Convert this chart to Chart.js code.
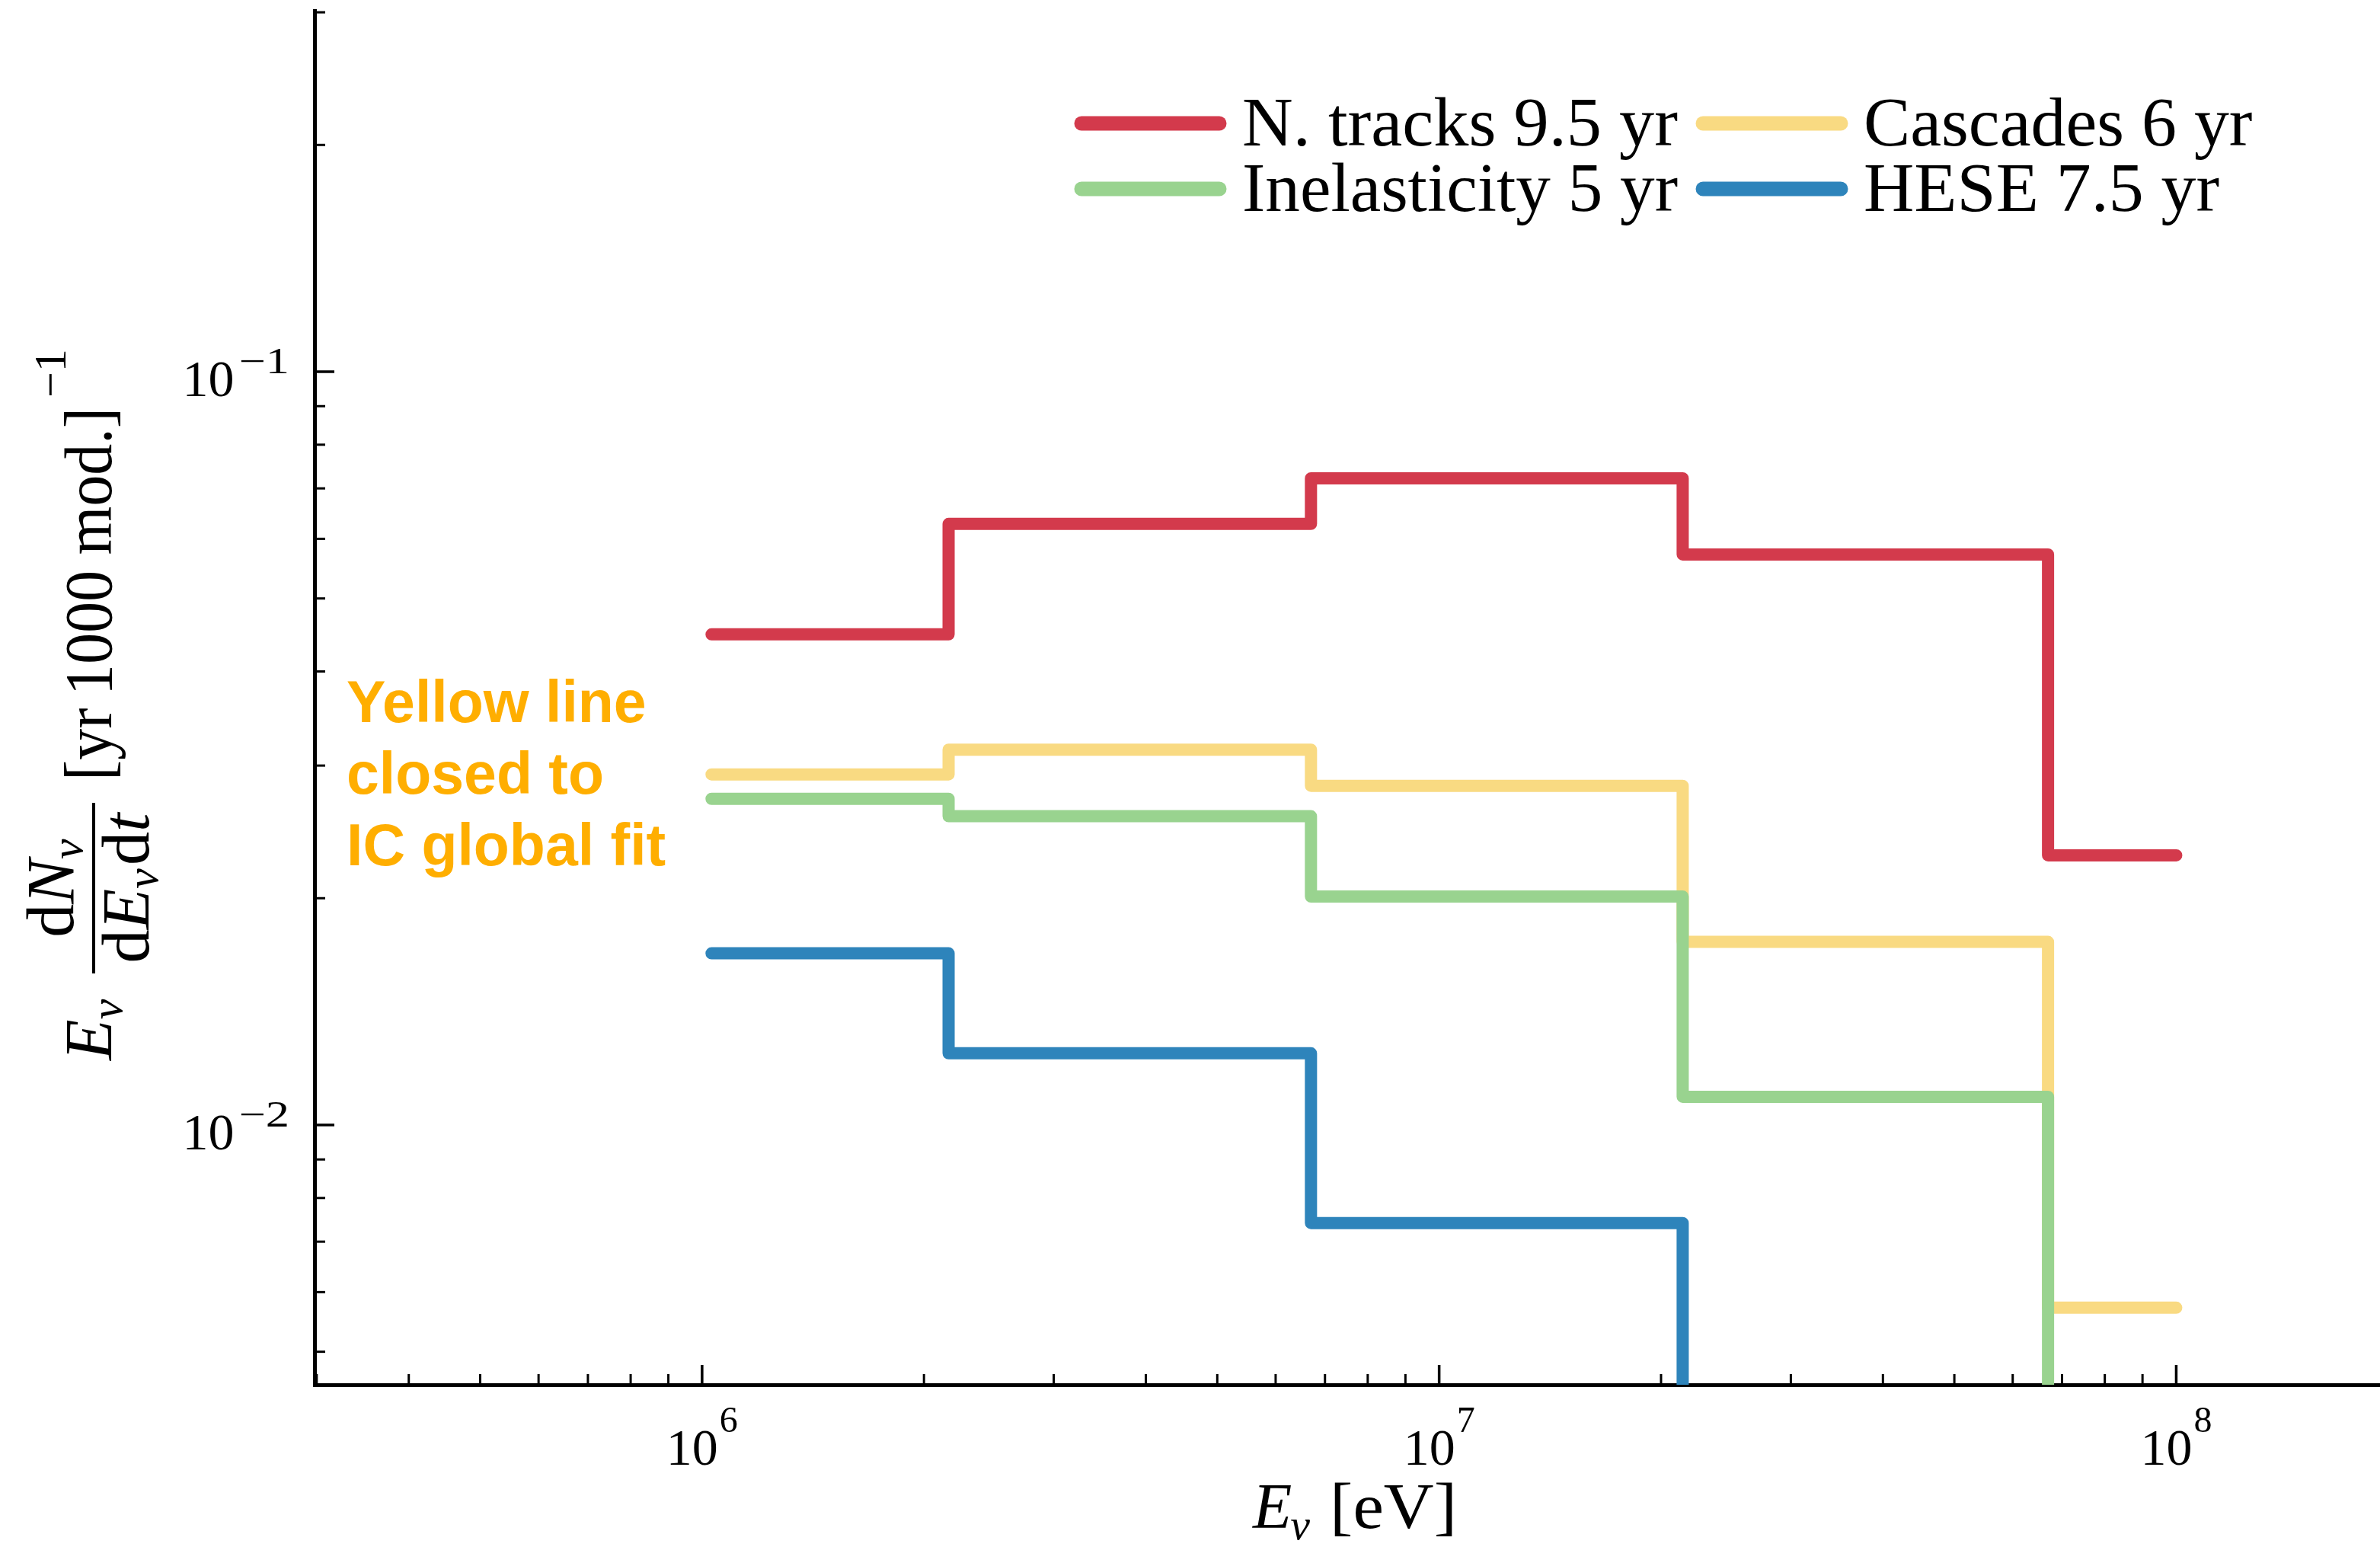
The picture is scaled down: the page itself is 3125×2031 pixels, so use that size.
<!DOCTYPE html>
<html>
<head>
<meta charset="utf-8">
<script src="https://cdn.jsdelivr.net/npm/chart.js@4.4.1/dist/chart.umd.min.js"></script>
<style>
  html, body { margin: 0; padding: 0; background: #ffffff; }
  #wrap { width: 3125px; height: 2031px; position: relative; }
  canvas { display: block; }
</style>
</head>
<body>
<div id="wrap"><canvas id="c" width="3125" height="2031"></canvas></div>
<script>
// ---------------- data ----------------
const binEdges = [1.03e6, 2.16e6, 6.7e6, 2.14e7, 6.7e7, 1.0e8];   // E_nu [eV]
const seriesLabels = ['N. tracks 9.5 yr', 'Inelasticity 5 yr', 'Cascades 6 yr', 'HESE 7.5 yr'];
const tracksValues       = [0.0448, 0.0628, 0.0722, 0.0572, 0.0228];
const inelasticityValues = [0.0271, 0.0257, 0.0201, 0.0109, 0.001];   // last bin below the axis
const cascadesValues     = [0.0292, 0.0315, 0.0282, 0.0175, 0.00572];
const heseValues         = [0.0169, 0.01245, 0.00741, 0.001, 0.001];  // last two bins below the axis
const seriesColors = ['#d33a4c', '#99d38f', '#f9da82', '#2e84bb'];

const xMajorTicks = [1e6, 1e7, 1e8];
const xMinorTicks = [3e5, 4e5, 5e5, 6e5, 7e5, 8e5, 9e5,
                     2e6, 3e6, 4e6, 5e6, 6e6, 7e6, 8e6, 9e6,
                     2e7, 3e7, 4e7, 5e7, 6e7, 7e7, 8e7, 9e7];
const xTickBases = ['10', '10', '10'];
const xTickExponents = ['6', '7', '8'];

const yMajorTicks = [1e-1, 1e-2];
const yMinorTicks = [3e-1, 2e-1, 9e-2, 8e-2, 7e-2, 6e-2, 5e-2, 4e-2, 3e-2, 2e-2,
                     9e-3, 8e-3, 7e-3, 6e-3, 5e-3];
const yTickBases = ['10', '10'];
const yTickExponents = ['\u22121', '\u22122'];

const annotationLines = ['Yellow line', 'closed to', 'IC global fit'];

// ---------------- helpers ----------------
function stepPoints(edges, vals) {
  const pts = [];
  vals.forEach((v, i) => {
    pts.push({ x: edges[i], y: v });
    pts.push({ x: edges[i + 1], y: v });
  });
  return pts;
}

const seriesValues = [tracksValues, inelasticityValues, cascadesValues, heseValues];

const SERIF = '"Liberation Serif", "DejaVu Serif", serif';
const SANS = '"Liberation Sans", Arial, sans-serif';

function buildTickObjs(minor, major) {
  return minor.concat(major).sort((a, b) => a - b).map(v => ({ value: v, major: major.includes(v) }));
}

// ---------------- custom drawing plugin ----------------
const decorPlugin = {
  id: 'decor',
  afterDraw(chart) {
    const ctx = chart.ctx;
    const xs = chart.scales.x, ys = chart.scales.y;
    const area = chart.chartArea;
    ctx.save();
    ctx.strokeStyle = '#000';
    ctx.fillStyle = '#000';
    ctx.lineCap = 'butt';

    // inward ticks on x axis
    xs.ticks.forEach(t => {
      const px = xs.getPixelForValue(t.value);
      if (px < area.left - 1 || px > area.right + 1) return;
      const len = t.major ? 26 : 14;
      ctx.lineWidth = t.major ? 3.5 : 3;
      ctx.beginPath();
      ctx.moveTo(px, area.bottom);
      ctx.lineTo(px, area.bottom - len);
      ctx.stroke();
    });
    // inward ticks on y axis
    ys.ticks.forEach(t => {
      const py = ys.getPixelForValue(t.value);
      if (py < area.top - 3 || py > area.bottom + 1) return;
      const len = t.major ? 26 : 14;
      ctx.lineWidth = t.major ? 3.5 : 3;
      ctx.beginPath();
      ctx.moveTo(area.left, py);
      ctx.lineTo(area.left + len, py);
      ctx.stroke();
    });

    // tick labels (10^n)
    const baseSize = 68, expSize = 48;
    ctx.textBaseline = 'alphabetic';
    ctx.textAlign = 'left';
    xMajorTicks.forEach((v, i) => {
      const px = xs.getPixelForValue(v);
      ctx.font = `${baseSize}px ${SERIF}`;
      const wb = ctx.measureText(xTickBases[i]).width;
      ctx.font = `${expSize}px ${SERIF}`;
      const we = ctx.measureText(xTickExponents[i]).width;
      const x0 = px - (wb + 2 + we) / 2;
      ctx.font = `${baseSize}px ${SERIF}`;
      ctx.fillText(xTickBases[i], x0, area.bottom + 105);
      ctx.font = `${expSize}px ${SERIF}`;
      ctx.fillText(xTickExponents[i], x0 + wb + 2, area.bottom + 62);
    });
    yMajorTicks.forEach((v, i) => {
      const py = ys.getPixelForValue(v);
      ctx.font = `${baseSize}px ${SERIF}`;
      const wb = ctx.measureText(yTickBases[i]).width;
      ctx.font = `${expSize}px ${SERIF}`;
      const we = ctx.measureText(yTickExponents[i]).width;
      const right = area.left - 33;
      const gap = 6;
      const stretch = 1.3;
      const x0 = right - (wb + gap + we * stretch);
      ctx.font = `${baseSize}px ${SERIF}`;
      ctx.fillText(yTickBases[i], x0, py + 32);
      ctx.font = `${expSize}px ${SERIF}`;
      ctx.save();
      ctx.translate(x0 + wb + gap, py + 2);
      ctx.scale(stretch, 1);
      ctx.fillText(yTickExponents[i], 0, 0);
      ctx.restore();
    });

    // x axis title: E_nu [eV]
    {
      let x = 1645;
      const by = 2006;
      ctx.font = `italic 84px ${SERIF}`;
      ctx.fillText('E', x, by);
      x += ctx.measureText('E').width - 2;
      ctx.font = `italic 58px ${SERIF}`;
      ctx.fillText('\u03bd', x, by + 15);
      x += ctx.measureText('\u03bd').width + 26;
      ctx.font = `84px ${SERIF}`;
      const w = ctx.measureText('[eV]').width;
      ctx.save();
      ctx.translate(x, by);
      ctx.scale((1913 - x) / w, 1);
      ctx.fillText('[eV]', 0, 0);
      ctx.restore();
    }

    // y axis title (rotated)
    {
      ctx.save();
      ctx.rotate(-Math.PI / 2);
      // frame coordinates: u = -screenY, v = screenX
      const base = 146;
      let u = -1392;
      ctx.font = `italic 88px ${SERIF}`;
      ctx.fillText('E', u, base);
      u += ctx.measureText('E').width;
      ctx.font = `italic 60px ${SERIF}`;
      ctx.fillText('\u03bd', u, base + 14);

      // fraction
      const barStart = -1278, barEnd = -1054, barV = 123;
      ctx.lineWidth = 4;
      ctx.beginPath();
      ctx.moveTo(barStart, barV);
      ctx.lineTo(barEnd, barV);
      ctx.stroke();
      const center = (barStart + barEnd) / 2;
      function measureParts(parts) {
        let w = 0;
        parts.forEach(p => { ctx.font = p.f; w += ctx.measureText(p.t).width + (p.gap || 0); });
        return w;
      }
      function drawParts(parts, start, v) {
        let uu = start;
        parts.forEach(p => {
          ctx.font = p.f;
          ctx.fillText(p.t, uu, v + (p.dy || 0));
          uu += ctx.measureText(p.t).width + (p.gap || 0);
        });
      }
      const num = [
        { t: 'd', f: `88px ${SERIF}` },
        { t: 'N', f: `italic 88px ${SERIF}` },
        { t: '\u03bd', f: `italic 60px ${SERIF}`, dy: 12 }
      ];
      const den = [
        { t: 'd', f: `88px ${SERIF}` },
        { t: 'E', f: `italic 88px ${SERIF}` },
        { t: '\u03bd', f: `italic 60px ${SERIF}`, dy: 12, gap: 4 },
        { t: 'd', f: `88px ${SERIF}` },
        { t: 't', f: `italic 88px ${SERIF}` }
      ];
      drawParts(num, center - measureParts(num) / 2, 96);
      drawParts(den, center - measureParts(den) / 2, 195);

      // bracket unit
      ctx.font = `88px ${SERIF}`;
      const unit = '[yr\u20091000 mod.]';
      const wu = ctx.measureText(unit).width;
      const targetStart = -1025, targetEnd = -535;
      ctx.save();
      ctx.translate(targetStart, base);
      ctx.scale((targetEnd - targetStart) / wu, 1);
      ctx.fillText(unit, 0, 0);
      ctx.restore();
      // superscript -1
      ctx.font = `60px ${SERIF}`;
      ctx.fillText('\u22121', -522, 86);
      ctx.restore();
    }

    // annotation
    ctx.fillStyle = '#ffae00';
    ctx.font = `bold 77px ${SANS}`;
    annotationLines.forEach((line, i) => {
      ctx.fillText(line, 455, 948 + i * 94);
    });

    // legend (two columns, column-major like the reference)
    const colHandle = [[1411, 1610], [2227, 2426]];
    const colText = [1631, 2447];
    const rowY = [162, 248];
    ctx.font = `91px ${SERIF}`;
    chart.data.datasets.forEach((ds, i) => {
      const col = Math.floor(i / 2), row = i % 2;
      ctx.strokeStyle = ds.borderColor;
      ctx.lineWidth = 19;
      ctx.lineCap = 'round';
      ctx.beginPath();
      ctx.moveTo(colHandle[col][0] + 9, rowY[row]);
      ctx.lineTo(colHandle[col][1] - 9, rowY[row]);
      ctx.stroke();
      ctx.fillStyle = '#000';
      const w = ctx.measureText(ds.label).width;
      const target = col === 0 ? 572 : w * 1.01;
      ctx.save();
      ctx.translate(colText[col], rowY[row] + 29);
      ctx.scale(col === 0 ? target / w : 1.01, 1);
      ctx.fillText(ds.label, 0, 0);
      ctx.restore();
    });
    ctx.restore();
  }
};

// ---------------- chart ----------------
const datasets = seriesLabels.map((label, i) => ({
  label: label,
  data: stepPoints(binEdges, seriesValues[i]),
  borderColor: seriesColors[i],
  backgroundColor: seriesColors[i],
  borderWidth: 16,
  borderCapStyle: 'round',
  borderJoinStyle: 'round',
  pointRadius: 0,
  pointHoverRadius: 0,
  fill: false,
  tension: 0,
  clip: 0
}));

new Chart(document.getElementById('c'), {
  type: 'line',
  data: { datasets: datasets },
  options: {
    responsive: false,
    animation: false,
    devicePixelRatio: 1,
    events: [],
    layout: { padding: { top: 14, right: 0, bottom: 0, left: 0 } },
    plugins: { legend: { display: false }, tooltip: { enabled: false }, title: { display: false } },
    scales: {
      x: {
        type: 'logarithmic',
        position: 'bottom',
        bounds: 'data',
        min: 2.98e5,
        max: 1.89e8,
        grid: { display: true, drawOnChartArea: false, drawTicks: false },
        border: { display: true, color: '#000', width: 5 },
        ticks: { display: false },
        afterBuildTicks: s => { s.ticks = buildTickObjs(xMinorTicks, xMajorTicks); },
        afterFit: s => { s.height = 213; }
      },
      y: {
        type: 'logarithmic',
        position: 'left',
        bounds: 'data',
        min: 0.00452,
        max: 0.3015,
        grid: { display: true, drawOnChartArea: false, drawTicks: false },
        border: { display: true, color: '#000', width: 5 },
        ticks: { display: false },
        afterBuildTicks: s => { s.ticks = buildTickObjs(yMinorTicks, yMajorTicks); },
        afterFit: s => { s.width = 413; }
      }
    }
  },
  plugins: [decorPlugin]
});
</script>
</body>
</html>
